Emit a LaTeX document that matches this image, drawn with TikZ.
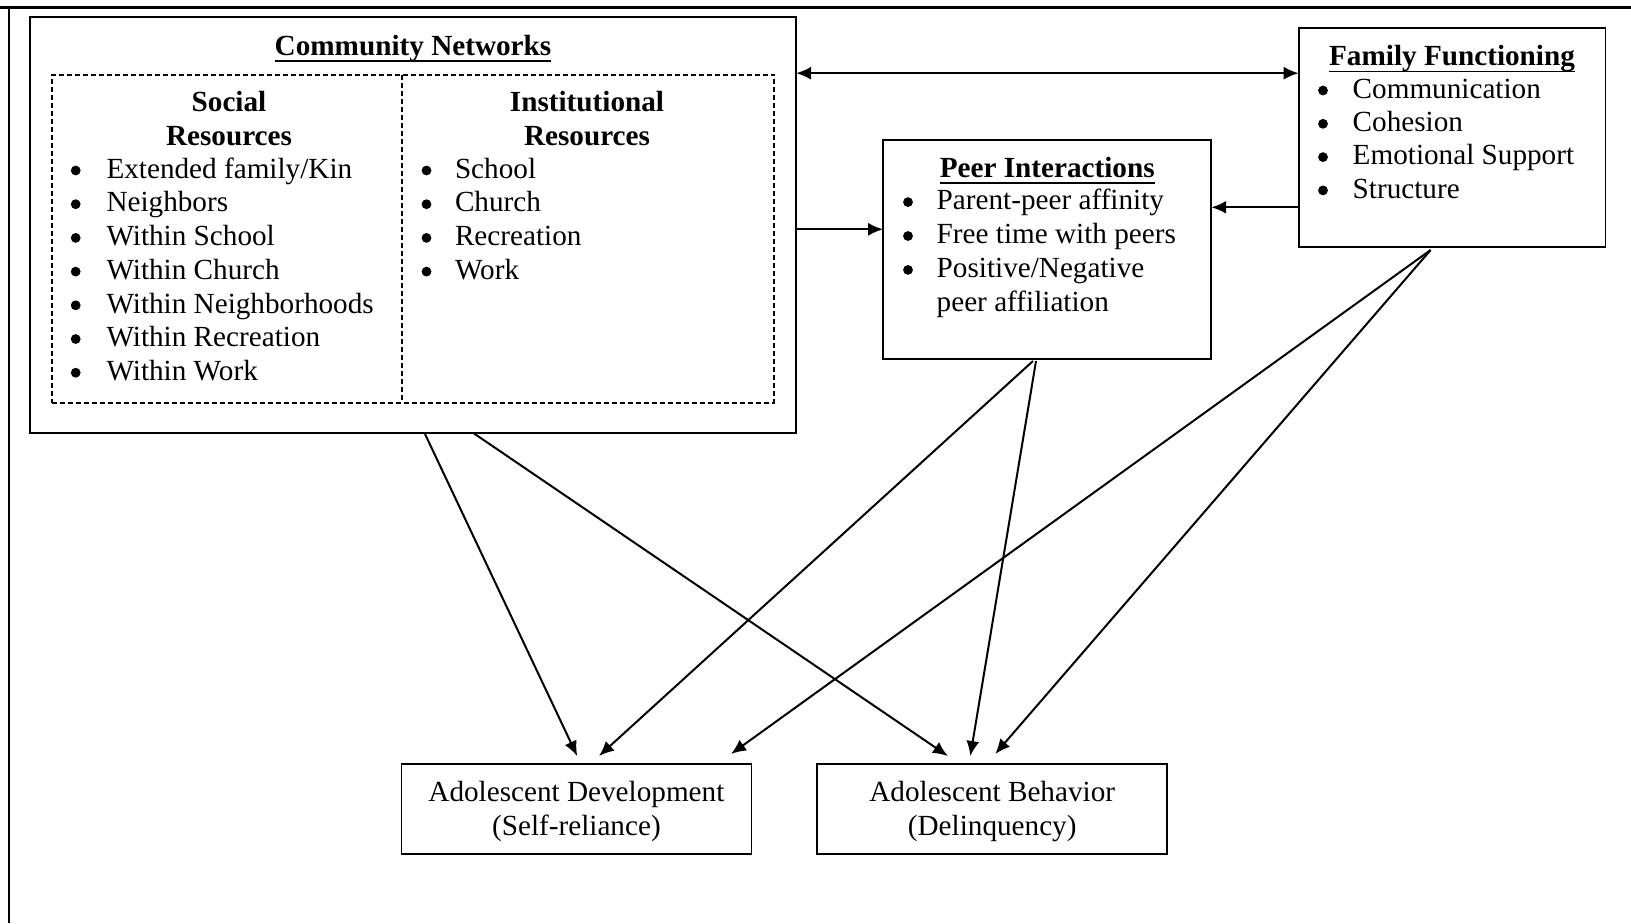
\documentclass[tikz,border=0pt]{standalone}
\usepackage{fontspec}
\setmainfont{Liberation Serif}
\usetikzlibrary{arrows.meta}
% word-processor style underline that runs through descenders
\newcommand{\titleul}[1]{\setbox0=\hbox{#1}\rlap{\rule[-3.3pt]{\wd0}{0.9pt}}\box0}

\begin{document}
\begin{tikzpicture}[x=0.5pt,y=-0.5pt,
  every node/.style={inner sep=0pt, outer sep=0pt, font=\fontsize{14.6pt}{16.85pt}\selectfont},
  frame/.style={draw, line width=0.9pt},
  resbox/.style={draw, dash pattern=on 2.5pt off 1.5pt, line width=0.85pt},
  lbl/.style={anchor=base west},
  ctr/.style={anchor=base},
  dot/.style={circle, fill, minimum size=4.9pt},
  link/.style={-{Latex[length=7.5pt,width=6.5pt]}, line width=1pt},
  hlink/.style={line width=1.1pt, -{Latex[length=7.5pt,width=6.5pt]}}
]
\useasboundingbox (0,0) rectangle (1631,923);

% page rules
\draw[line width=1.5pt] (0,7.5) -- (1631,7.5);
\draw[line width=1pt] (8.7,7.5) -- (8.7,923);

% ---------- Community Networks ----------
\node[frame, minimum width=383.1pt, minimum height=208pt] (cn) at (412.9,224.7) {};
\node[ctr] (cntitle) at (413,55) {\titleul{\bfseries Community Networks}};
\node[resbox, minimum width=360.85pt, minimum height=164pt] (res) at (413.15,238.7) {};
\draw[dash pattern=on 2.5pt off 1.5pt, line width=0.85pt]
  ([xshift=-5.6pt]res.north) -- ([xshift=-5.6pt]res.south);

\node[ctr] (soc1) at (229,111) {\bfseries Social};
\node[ctr] (soc2) at (229,145) {\bfseries Resources};
\node[ctr] (ins1) at (587,111) {\bfseries Institutional};
\node[ctr] (ins2) at (587,145) {\bfseries Resources};

% bullet dots sit 7.7 units above each baseline
\foreach \t [count=\i from 0] in {Extended family/Kin, Neighbors, Within School,
    Within Church, Within Neighborhoods, Within Recreation, Within Work} {
  \node[dot] (sb\i) at (75.7,170.5+33.7*\i) {};
  \node[lbl] (st\i) at (106.5,178.2+33.7*\i) {\t};
}
\foreach \t [count=\i from 0] in {School, Church, Recreation, Work} {
  \node[dot] (ib\i) at (426.5,170.5+33.7*\i) {};
  \node[lbl] (it\i) at (455,178.2+33.7*\i) {\t};
}

% ---------- Peer Interactions ----------
\node[frame, minimum width=164pt, minimum height=109.5pt] (peer) at (1047.2,249.5) {};
\node[ctr] (peertitle) at (1047.2,177.2) {\titleul{\bfseries Peer Interactions}};
\foreach \t [count=\i from 0] in {Parent-peer affinity, Free time with peers, Positive/Negative} {
  \node[dot] (pb\i) at (908,202.1+33.9*\i) {};
  \node[lbl] (pt\i) at (936.7,209.8+33.9*\i) {\t};
}
\node[lbl] (pt3) at (936.7,311.5) {peer affiliation};

% ---------- Family Functioning ----------
\node[frame, minimum width=153.4pt, minimum height=109.5pt] (fam) at (1452.1,137.5) {};
\node[ctr] (famtitle) at (1452,65.8) {\titleul{\bfseries Family Functioning}};
\foreach \t [count=\i from 0] in {Communication, Cohesion, Emotional Support, Structure} {
  \node[dot] (fb\i) at (1323,90.5+33.3*\i) {};
  \node[lbl] (ft\i) at (1352.7,98.2+33.3*\i) {\t};
}

% ---------- Outcomes ----------
\node[frame, minimum width=175pt, minimum height=44.85pt] (ad) at (576.4,808.85) {};
\node[ctr] (ad1) at (576.4,801) {Adolescent Development};
\node[ctr] (ad2) at (576.4,835.5) {(Self-reliance)};
\node[frame, minimum width=175pt, minimum height=44.85pt] (ab) at (992.2,808.85) {};
\node[ctr] (ab1) at (992.2,801) {Adolescent Behavior};
\node[ctr] (ab2) at (992.2,835.5) {(Delinquency)};

% ---------- connectors ----------
\coordinate (rowA) at (0,73.2);
\coordinate (rowB) at (0,229.3);
\coordinate (rowC) at (0,207.3);
\draw[hlink, {Latex[length=7.5pt,width=6.5pt]}-{Latex[length=7.5pt,width=6.5pt]}]
  (cn.east |- rowA) -- (fam.west |- rowA);
\draw[hlink] (cn.east |- rowB) -- (peer.west |- rowB);
\draw[hlink] (fam.west |- rowC) -- (peer.east |- rowC);

\draw[link] ([xshift=5.75pt]cn.south) -- ([xshift=0.4pt,yshift=4pt]ad.north);
\draw[link] ([xshift=30pt]cn.south) -- ([xshift=-22.15pt,yshift=4pt]ab.north);
\draw[link] ([xshift=-7.1pt,yshift=-1pt]peer.south) -- ([xshift=11.3pt,yshift=4pt]ad.north);
\draw[link] ([xshift=-5.6pt,yshift=-1pt]peer.south) -- ([xshift=-10.95pt,yshift=4pt]ab.north);
\draw[link] ([xshift=-10.75pt,yshift=-1.5pt]fam.south) -- ([xshift=77.3pt,yshift=5pt]ad.north);
\draw[link] ([xshift=-10.75pt,yshift=-1.5pt]fam.south) -- ([xshift=1.5pt,yshift=5pt]ab.north);
\end{tikzpicture}
\end{document}
